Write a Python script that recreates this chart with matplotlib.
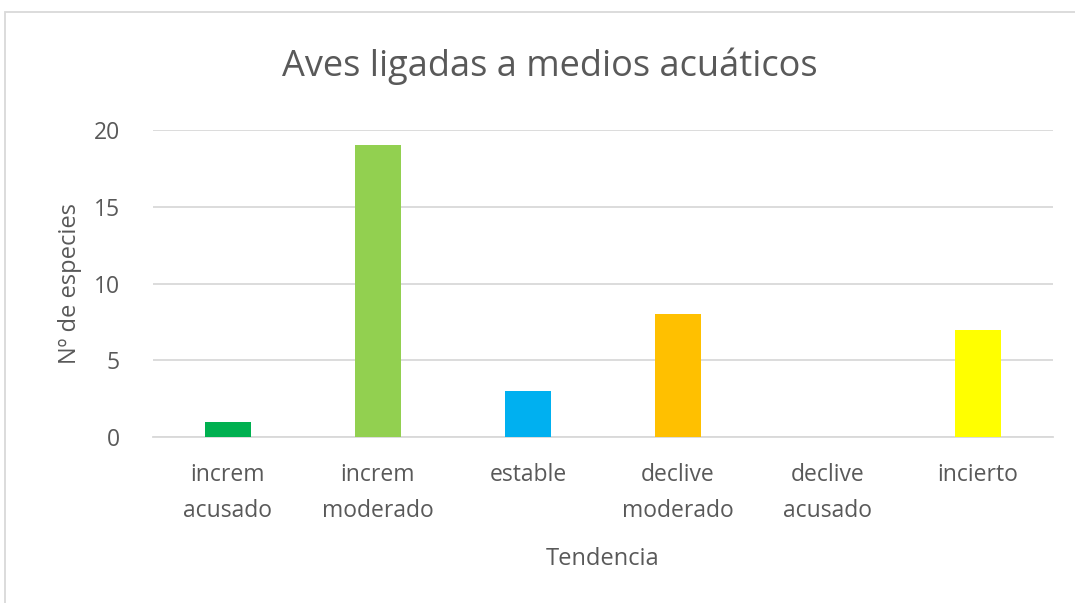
import matplotlib
matplotlib.use("Agg")
import matplotlib.pyplot as plt
from matplotlib.patches import Rectangle

# data
categorias = ["increm\nacusado", "increm\nmoderado", "estable",
              "declive\nmoderado", "declive\nacusado", "incierto"]
especies = [1, 19, 3, 8, 0, 7]
colores = ["#00B050", "#92D050", "#00B0F0", "#FFC000", "#FF0000", "#FFFF00"]
y_ticks = [0, 5, 10, 15, 20]

plt.rcParams['font.family'] = ['Open Sans', 'DejaVu Sans']
gris = "#595959"

fig = plt.figure(figsize=(10.75, 6.03), dpi=100)
ax = fig.add_axes([0.1423, 0.2753, 0.8372, 0.5091])

x = list(range(len(categorias)))
ax.bar(x, especies, width=0.31, color=colores, zorder=3)

ax.set_xlim(-0.5, len(categorias) - 0.5)
ax.set_ylim(0, 20)
ax.set_yticks(y_ticks)
ax.set_xticks(x)
ax.set_xticklabels(categorias, fontsize=16.5, color=gris, linespacing=1.65)
ax.tick_params(axis="y", labelsize=16.5, labelcolor=gris, length=0, pad=24)
ax.tick_params(axis="x", length=0, pad=19)

ax.grid(axis="y", color="#D9D9D9", linewidth=1.3, zorder=0)
for s in ["top", "right", "left"]:
    ax.spines[s].set_visible(False)
ax.spines["bottom"].set_color("#D9D9D9")
ax.spines["bottom"].set_linewidth(1.3)

ax.set_ylabel("Nº de especies", fontsize=17, color=gris, labelpad=8)
ax.set_xlabel("Tendencia", fontsize=17, color=gris, labelpad=17)
fig.text(0.511, 0.89, "Aves ligadas a medios acuáticos", fontsize=26,
         color=gris, ha="center", va="center")

# chart frame
fig.patches.append(Rectangle((5 / 1075, -0.1), 1.2, 0.98 + 0.1,
                             transform=fig.transFigure, fill=False,
                             edgecolor="#D9D9D9", linewidth=1.3))

fig.savefig("out.png", dpi=100)
